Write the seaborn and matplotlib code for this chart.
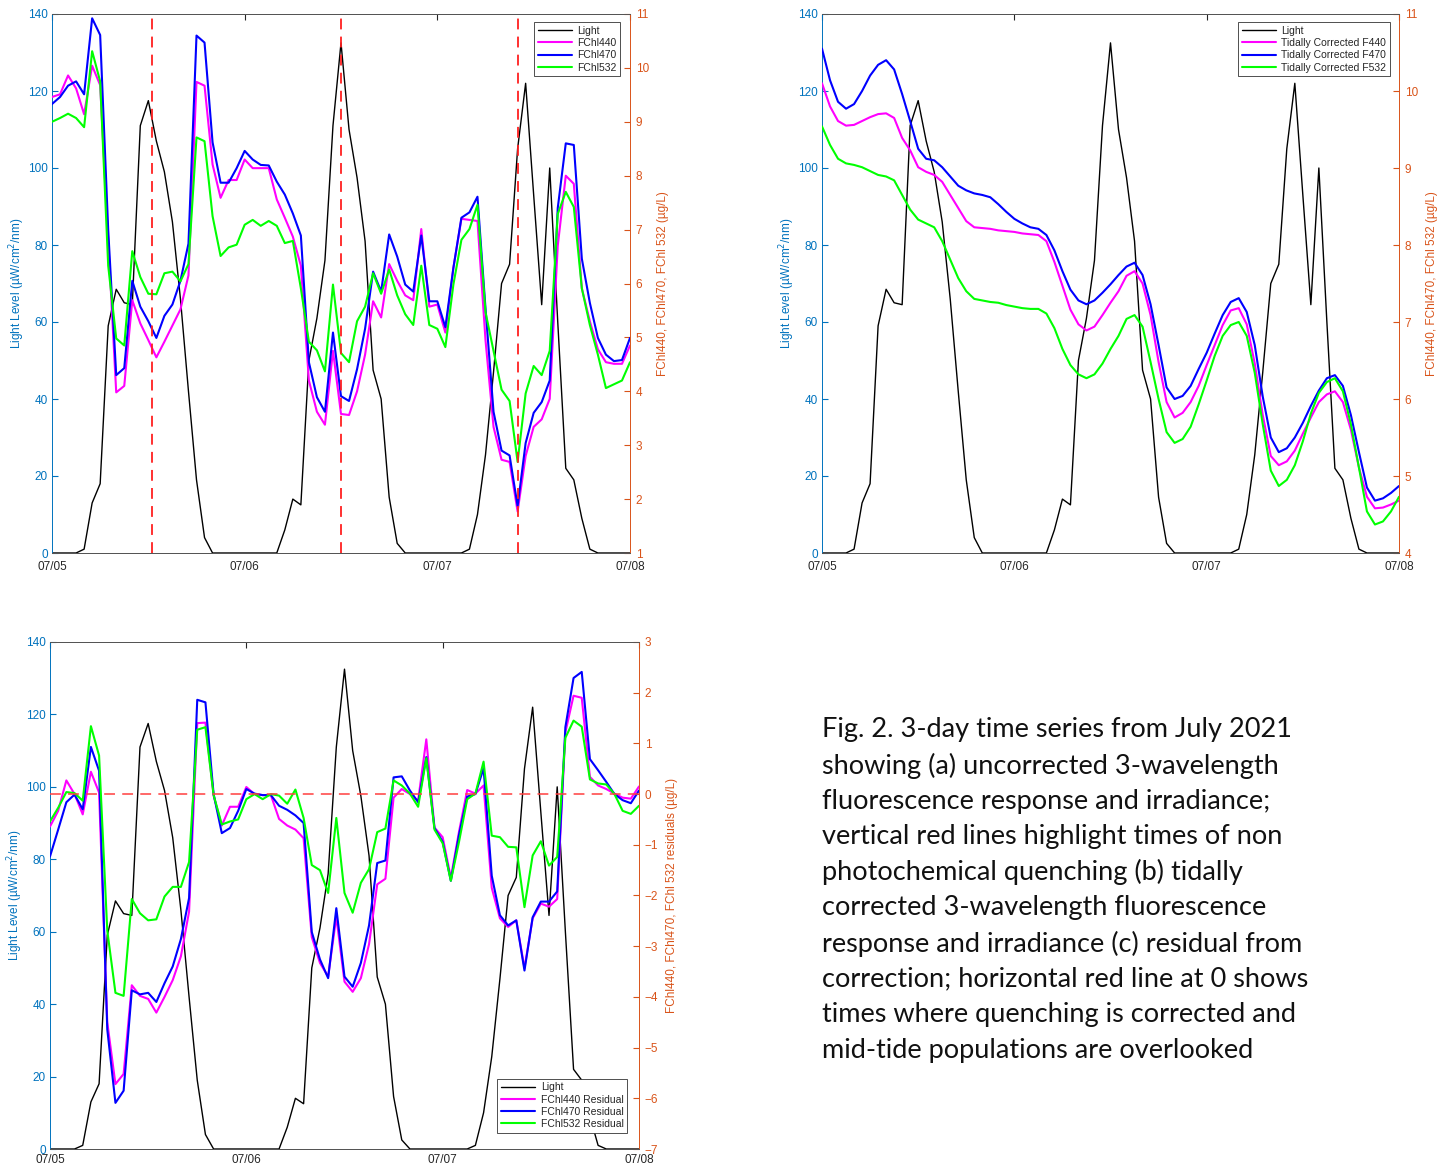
import numpy as np
import pandas as pd
import matplotlib
matplotlib.use("Agg")
import matplotlib.pyplot as plt
import matplotlib.dates as mdates
from matplotlib.lines import Line2D
import seaborn as sns

sns.set_style("white")
plt.rcParams['font.family'] = ['Liberation Sans', 'DejaVu Sans']

# ---------------- data (hourly, 07/05 00:00 -> 07/08 00:00) ----------------
times = pd.date_range("2021-07-05 00:00", periods=73, freq="h")

light = [0, 0, 0, 0, 1, 13, 18, 59, 68.5, 65, 64.5, 111, 117.5, 107, 99, 86, 66, 42, 19, 4,
         0, 0, 0, 0, 0, 0, 0, 0, 0,
         6, 14, 12.5, 50, 61, 76, 111, 132.5, 110, 97.5, 81, 47.5, 40, 14.5, 2.5,
         0, 0, 0, 0, 0, 0, 0, 0,
         1, 10, 25.5, 47, 70, 75, 105, 122, 93, 64.5, 100, 60, 22, 19, 9, 1,
         0, 0, 0, 0, 0]

# (a) uncorrected fluorescence (ug/L)
a_f440 = [9.46, 9.51, 9.86, 9.62, 9.14, 10.04, 9.68, 6.8, 3.98, 4.10, 5.69, 5.26, 4.95, 4.63, 4.92, 5.22,
          5.52, 6.15, 9.74, 9.67, 8.21, 7.59, 7.92, 7.92, 8.30, 8.14, 8.14, 8.14, 7.56, 7.22, 6.87, 6.33,
          4.20, 3.62, 3.38, 4.75,
          3.58, 3.56, 4.00, 4.68, 5.67, 5.37, 6.36, 6.05, 5.78, 5.69, 7.01, 5.57, 5.61, 5.09, 6.29, 7.20,
          7.18, 7.16, 4.95, 3.34, 2.73, 2.69, 1.77, 2.80, 3.34, 3.48, 3.86, 6.7, 8.00, 7.85, 5.91, 5.30,
          4.78, 4.54, 4.51, 4.51, 4.85]
a_f470 = [9.33, 9.46, 9.67, 9.75, 9.51, 10.92, 10.61, 7.0, 4.30, 4.43, 6.05, 5.57, 5.30, 4.99, 5.40, 5.61,
          6.05, 6.74, 10.60, 10.47, 8.62, 7.87, 7.87, 8.14, 8.46, 8.30, 8.20, 8.19, 7.89, 7.65, 7.30, 6.89,
          4.54, 3.89, 3.62, 5.09,
          3.91, 3.82, 4.41, 5.16, 6.22, 5.85, 6.91, 6.50, 5.98, 5.85, 6.89, 5.67, 5.67, 5.19, 6.29, 7.22,
          7.32, 7.61, 5.54, 3.62, 2.90, 2.81, 1.87, 3.04, 3.60, 3.80, 4.20, 7.4, 8.60, 8.57, 6.46, 5.64,
          4.99, 4.68, 4.56, 4.58, 4.99]
a_f532 = [9.00, 9.07, 9.15, 9.07, 8.90, 10.31, 9.75, 6.33, 4.98, 4.85, 6.60, 6.12, 5.81, 5.80, 6.19, 6.22,
          6.04, 6.36, 8.71, 8.64, 7.25, 6.51, 6.67, 6.72, 7.09, 7.18, 7.07, 7.16, 7.07, 6.75, 6.79, 5.91,
          4.92, 4.76, 4.37, 5.98,
          4.71, 4.54, 5.30, 5.57, 6.19, 5.81, 6.26, 5.78, 5.43, 5.23, 6.33, 5.23, 5.16, 4.82, 5.98, 6.81,
          7.01, 7.46, 5.47, 4.75, 4.03, 3.82, 2.69, 3.96, 4.47, 4.30, 4.75, 7.29, 7.70, 7.42, 5.91, 5.23,
          4.68, 4.06, 4.13, 4.20, 4.54]

# (b) tidally corrected fluorescence (ug/L)
b_f440 = [10.10, 9.80, 9.61, 9.55, 9.56, 9.61, 9.66, 9.70, 9.71, 9.65, 9.39, 9.23, 9.01, 8.95, 8.91, 8.82,
          8.65, 8.48, 8.31, 8.23, 8.22, 8.21, 8.19, 8.18, 8.17, 8.15, 8.14, 8.13, 8.05, 7.78, 7.47, 7.16,
          6.97, 6.89, 6.94, 7.09, 7.25,
          7.40, 7.60, 7.66, 7.50, 7.09, 6.48, 5.96, 5.76, 5.82, 5.96, 6.17, 6.44, 6.70, 6.96, 7.15, 7.18,
          6.97, 6.46, 5.79, 5.26, 5.14, 5.19, 5.33, 5.55, 5.76, 5.96, 6.06, 6.10, 5.96, 5.60, 5.11, 4.73,
          4.58, 4.59, 4.63, 4.68]
b_f470 = [10.55, 10.14, 9.86, 9.77, 9.83, 10.0, 10.20, 10.34, 10.40, 10.28, 9.96, 9.61, 9.25, 9.12, 9.10,
          9.01, 8.89, 8.77, 8.71, 8.67, 8.65, 8.62, 8.53, 8.43, 8.34, 8.28, 8.23, 8.21, 8.13, 7.93, 7.66,
          7.42, 7.28, 7.23, 7.28, 7.38, 7.49,
          7.61, 7.72, 7.77, 7.61, 7.23, 6.70, 6.15, 6.00, 6.04, 6.17, 6.39, 6.60, 6.85, 7.09, 7.26, 7.31,
          7.13, 6.70, 6.03, 5.50, 5.31, 5.36, 5.50, 5.69, 5.91, 6.11, 6.27, 6.31, 6.17, 5.79, 5.31, 4.85,
          4.68, 4.71, 4.78, 4.87]
b_f532 = [9.54, 9.30, 9.12, 9.06, 9.04, 9.01, 8.96, 8.91, 8.89, 8.84, 8.65, 8.46, 8.33, 8.28, 8.23, 8.05,
          7.81, 7.57, 7.40, 7.30, 7.28, 7.26, 7.25, 7.22, 7.20, 7.18, 7.17, 7.17, 7.11, 6.92, 6.65, 6.44,
          6.32, 6.27, 6.32, 6.46, 6.65,
          6.82, 7.04, 7.09, 6.94, 6.48, 6.00, 5.57, 5.43, 5.48, 5.64, 5.93, 6.24, 6.56, 6.82, 6.96, 7.00,
          6.82, 6.34, 5.67, 5.07, 4.87, 4.95, 5.14, 5.45, 5.81, 6.08, 6.22, 6.27, 6.10, 5.67, 5.11, 4.54,
          4.37, 4.41, 4.54, 4.73]

# (c) residuals (ug/L)
c_f440 = [-0.64, -0.33, 0.27, 0.0, -0.40, 0.44, 0.03, -4.5, -5.72, -5.52, -3.77, -3.98, -4.04, -4.31, -4.0,
          -3.67, -3.20, -2.32, 1.40, 1.41, -0.03, -0.62, -0.25, -0.25, 0.14, 0.0, -0.02, -0.02, -0.49, -0.62,
          -0.70, -0.87, -2.82, -3.33, -3.60, -2.42,
          -3.70, -3.90, -3.63, -2.96, -1.78, -1.67, -0.07, 0.10, 0.0, -0.13, 1.08, -0.66, -0.85, -1.65, -0.74,
          0.08, 0.01, 0.17, -1.85, -2.45, -2.62, -2.49, -3.43, -2.45, -2.16, -2.22, -2.07, 1.22, 1.94, 1.90,
          0.34, 0.17, 0.10, 0.01, -0.07, -0.09, 0.15]
c_f470 = [-1.23, -0.70, -0.16, -0.01, -0.30, 0.93, 0.46, -4.64, -6.09, -5.85, -3.87, -3.95, -3.92, -4.10, -3.73,
          -3.40, -2.86, -2.05, 1.86, 1.81, 0.0, -0.77, -0.67, -0.33, 0.10, 0.01, -0.02, -0.02, -0.23, -0.31,
          -0.42, -0.57, -2.72, -3.26, -3.63, -2.25,
          -3.60, -3.80, -3.33, -2.59, -1.36, -1.31, 0.33, 0.35, 0.07, -0.16, 0.73, -0.67, -0.94, -1.71, -0.80,
          -0.05, 0.0, 0.51, -1.61, -2.39, -2.59, -2.49, -3.48, -2.43, -2.12, -2.12, -1.92, 1.32, 2.29, 2.41,
          0.69, 0.47, 0.24, 0.0, -0.12, -0.18, 0.07]
c_f532 = [-0.54, -0.27, 0.04, 0.02, -0.13, 1.34, 0.76, -2.69, -3.92, -3.98, -2.07, -2.35, -2.49, -2.47, -2.02,
          -1.83, -1.83, -1.34, 1.27, 1.32, -0.02, -0.60, -0.54, -0.50, -0.10, 0.0, -0.10, 0.0, -0.03, -0.19,
          0.09, -0.47, -1.40, -1.50, -1.95, -0.47,
          -1.95, -2.34, -1.75, -1.48, -0.75, -0.68, 0.27, 0.17, 0.01, -0.25, 0.71, -0.70, -0.97, -1.71, -0.94,
          -0.10, 0.01, 0.64, -0.82, -0.85, -1.04, -1.05, -2.23, -1.21, -0.93, -1.41, -1.24, 1.11, 1.45, 1.33,
          0.29, 0.21, 0.19, 0.0, -0.33, -0.39, -0.23]

npq_times = ["2021-07-05 12:30", "2021-07-06 12:00", "2021-07-07 10:00"]

legend_a = ["Light", "FChl440", "FChl470", "FChl532"]
legend_b = ["Light", "Tidally Corrected F440", "Tidally Corrected F470", "Tidally Corrected F532"]
legend_c = ["Light", "FChl440 Residual", "FChl470 Residual", "FChl532 Residual"]

caption_lines = [
    "Fig. 2. 3-day time series from July 2021",
    "showing (a) uncorrected 3-wavelength",
    "fluorescence response and irradiance;",
    "vertical red lines highlight times of non",
    "photochemical quenching (b) tidally",
    "corrected 3-wavelength fluorescence",
    "response and irradiance (c) residual from",
    "correction; horizontal red line at 0 shows",
    "times where quenching is corrected and",
    "mid-tide populations are overlooked",
]

# ---------------- styling ----------------
LEFT_C = "#0072BD"
RIGHT_C = "#D95319"
SERIES_C = ["#FF00FF", "#0000FF", "#00FF00"]
W, H = 1449, 1165

fig = plt.figure(figsize=(W / 100, H / 100), dpi=100)


def rect(x0, x1, y0, y1):
    return [x0 / W, 1 - y1 / H, (x1 - x0) / W, (y1 - y0) / H]


def panel(r, series, labels, rlim, rticks, rlabel, leg_loc, leg_anchor, xpad):
    ax = fig.add_axes(r)
    ax2 = ax.twinx()
    sns.lineplot(x=times, y=light, ax=ax, color="black", lw=1.0)
    for vals, col in zip(series, SERIES_C):
        sns.lineplot(x=times, y=vals, ax=ax2, color=col, lw=1.5)
    ax.set_xlim(times[0], times[-1])
    ax.set_ylim(0, 140)
    ax.set_yticks(range(0, 141, 20))
    ax2.set_ylim(*rlim)
    ax2.set_yticks(rticks)
    ax.xaxis.set_major_locator(mdates.DayLocator())
    ax.xaxis.set_major_formatter(mdates.DateFormatter("%m/%d"))
    ax.tick_params(axis="x", direction="in", top=True, length=4, labelsize=8.5,
                   colors="#262626", pad=xpad)
    ax.tick_params(axis="y", direction="in", length=4, labelsize=8.5, colors=LEFT_C, pad=3)
    ax2.tick_params(axis="y", direction="in", length=4, labelsize=8.5, colors=RIGHT_C, pad=4)
    ax.set_xlabel("")
    ax.set_ylabel("Light Level (\u00b5W/cm$^2$/nm)", color=LEFT_C, fontsize=8.5, labelpad=1)
    ax2.set_ylabel(rlabel, color=RIGHT_C, fontsize=8.5, labelpad=6)
    for a in (ax, ax2):
        for s in ("top", "bottom"):
            a.spines[s].set_color("#555555")
            a.spines[s].set_linewidth(0.7)
    ax.spines["left"].set_color(LEFT_C)
    ax.spines["left"].set_linewidth(0.7)
    ax2.spines["left"].set_visible(False)
    ax.spines["right"].set_visible(False)
    ax2.spines["right"].set_color(RIGHT_C)
    ax2.spines["right"].set_linewidth(0.7)
    handles = [Line2D([], [], color="black", lw=1.0)] + \
              [Line2D([], [], color=c, lw=1.5) for c in SERIES_C]
    leg = ax2.legend(handles, labels, loc=leg_loc, bbox_to_anchor=leg_anchor, frameon=True,
                     fancybox=False, edgecolor="#333333", framealpha=1, fontsize=7.5,
                     handlelength=3.3, borderaxespad=0, borderpad=0.35, labelspacing=0.22,
                     handletextpad=0.5)
    leg.get_frame().set_linewidth(0.6)
    return ax, ax2


# (a)
ax_a, ax_a2 = panel(rect(52, 630, 14, 553), [a_f440, a_f470, a_f532], legend_a,
                    (1, 11), range(1, 12), "FChl440, FChl470, FChl 532 (\u00b5g/L)",
                    "upper right", (0.983, 0.985), 6)
for t in npq_times:
    ax_a2.axvline(pd.Timestamp(t), color="#FF2020", ls=(0, (6, 4)), lw=1.3)

# (b)
ax_b, ax_b2 = panel(rect(822, 1399, 14, 553), [b_f440, b_f470, b_f532], legend_b,
                    (4, 11), range(4, 12), "FChl440, FChl470, FChl 532 (\u00b5g/L)",
                    "upper right", (0.984, 0.985), 6)

# (c)
ax_c, ax_c2 = panel(rect(50, 639, 642, 1149), [c_f440, c_f470, c_f532], legend_c,
                    (-7, 3), range(-7, 4), "FChl440, FChl470, FChl 532 residuals (\u00b5g/L)",
                    "lower right", (0.98, 0.032), 3.5)
ax_c2.axhline(0, color="#FF4040", ls=(0, (6, 4)), lw=1.3, alpha=0.85)

# caption
for i, line in enumerate(caption_lines):
    yc = 730 + i * 35.6
    fig.text(822 / W, 1 - yc / H, line, fontsize=19.5, family=["Lato", "DejaVu Sans"],
             color="#111111", ha="left", va="center")

fig.savefig("out.png", dpi=100)
